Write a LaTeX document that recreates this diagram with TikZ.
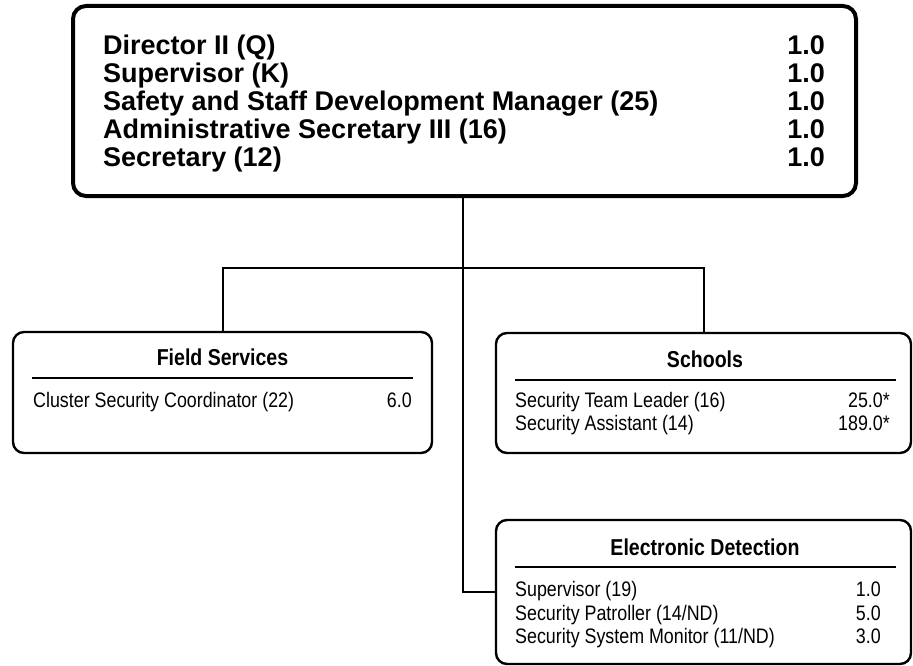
\documentclass[tikz,border=0pt]{standalone}
\usepackage{fontspec}
\setmainfont{Liberation Sans}
\newfontfamily\narrowfont[FakeStretch=0.85]{Liberation Sans}
\usetikzlibrary{calc}

\begin{document}
\begin{tikzpicture}[x=1pt,y=-1pt,
  headbox/.style={draw, rounded corners=13pt, line width=4pt, inner sep=0pt},
  unitbox/.style={draw, rounded corners=11pt, line width=2.4pt, inner sep=0pt},
  wire/.style={line width=2pt},
  rule/.style={line width=2.6pt},
  headtxt/.style={anchor=base west, inner sep=0pt, font=\fontsize{27}{30}\selectfont\bfseries},
  headval/.style={anchor=base east, inner sep=0pt, font=\fontsize{27}{30}\selectfont\bfseries},
  unittitle/.style={anchor=base, inner sep=0pt, font=\narrowfont\fontsize{23}{26}\selectfont\bfseries},
  rowtxt/.style={anchor=base west, inner sep=0pt, font=\narrowfont\fontsize{21}{24}\selectfont},
  rowval/.style={anchor=base east, inner sep=0pt, font=\narrowfont\fontsize{21}{24}\selectfont},
]
\useasboundingbox (0,0) rectangle (913,666);

% office of the director
\node[headbox, minimum width=783pt, minimum height=190pt] (head) at (464.5,101) {};
\node[headtxt] (h1) at (103,55)  {Director II (Q)};
\node[headtxt] (h2) at (103,83)  {Supervisor (K)};
\node[headtxt] (h3) at (103,111) {Safety and Staff Development Manager (25)};
\node[headtxt] (h4) at (103,139) {Administrative Secretary III (16)};
\node[headtxt] (h5) at (103,167) {Secretary (12)};
\node[headval] (v1) at (825,55)  {1.0};
\node[headval] (v2) at (825,83)  {1.0};
\node[headval] (v3) at (825,111) {1.0};
\node[headval] (v4) at (825,139) {1.0};
\node[headval] (v5) at (825,167) {1.0};

% field services
\node[unitbox, minimum width=419pt, minimum height=121pt] (field) at (222.5,392.5) {};
\node[unittitle] (fieldT) at (222.5,365) {Field Services};
\draw[rule] (32,378) -- (413,378);
\node[rowtxt] (f1) at (33,407) {Cluster Security Coordinator (22)};
\node[rowval] (f1v) at (412,407) {6.0};

% schools
\node[unitbox, minimum width=415pt, minimum height=120pt] (schools) at (703.5,393) {};
\node[unittitle] (schoolsT) at (705,367) {Schools};
\draw[rule] (515,380) -- (896,380);
\node[rowtxt] (s1) at (515,407) {Security Team Leader (16)};
\node[rowtxt] (s2) at (515,430) {Security Assistant (14)};
\node[rowval] (s1v) at (890,407) {25.0*};
\node[rowval] (s2v) at (890,430) {189.0*};

% electronic detection
\node[unitbox, minimum width=415pt, minimum height=144pt] (elec) at (703.5,592) {};
\node[unittitle] (elecT) at (705,555) {Electronic Detection};
\draw[rule] (515,567) -- (896,567);
\node[rowtxt] (e1) at (515,596) {Supervisor (19)};
\node[rowtxt] (e2) at (515,620) {Security Patroller (14/ND)};
\node[rowtxt] (e3) at (515,643) {Security System Monitor (11/ND)};
\node[rowval] (e1v) at (881,596) {1.0};
\node[rowval] (e2v) at (881,620) {5.0};
\node[rowval] (e3v) at (881,643) {3.0};

% connectors
\coordinate (bar) at (463,268);
\draw[wire] (head.south -| bar) |- (elec.west);
\draw[wire] (field.north) |- (bar) -| (schools.north);
\end{tikzpicture}
\end{document}
